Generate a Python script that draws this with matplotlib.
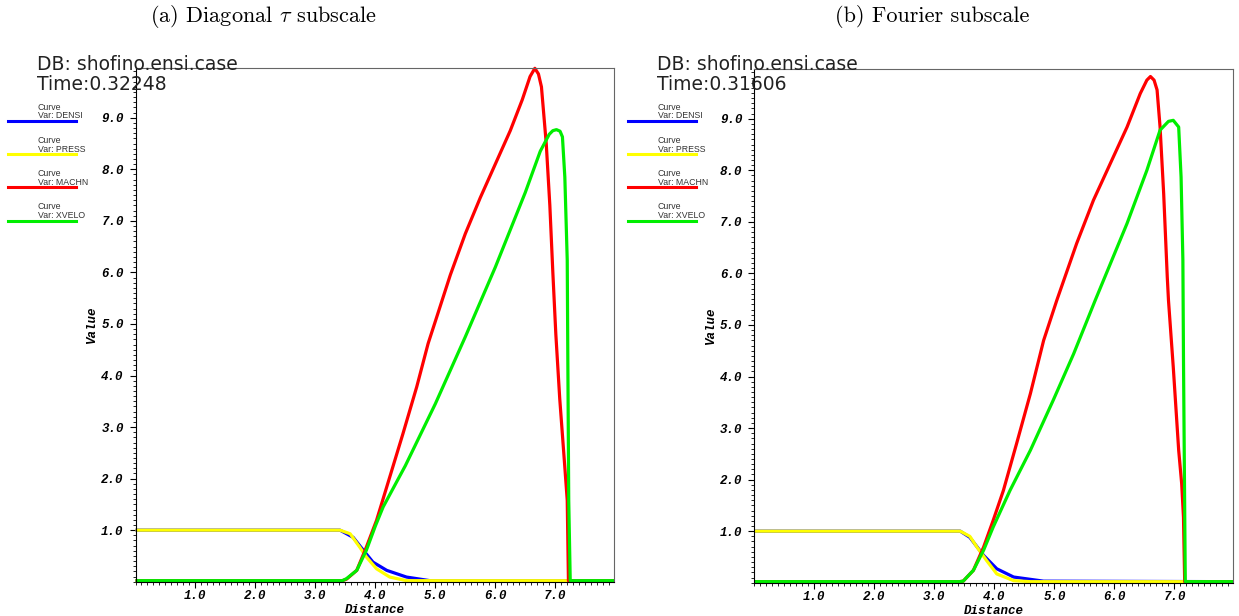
import numpy as np
import matplotlib.pyplot as plt
from matplotlib.ticker import MultipleLocator
import matplotlib.ticker as ticker

plt.rcParams['mathtext.fontset'] = 'cm'

# ---- panel (a): Diagonal tau subscale ----
a_densi_x = [0.0, 3.41, 3.63, 3.80, 3.96, 4.19, 4.52, 4.91, 7.98]
a_densi_y = [1.0, 1.0, 0.86, 0.61, 0.38, 0.22, 0.09, 0.02, 0.02]
a_press_x = [0.0, 3.41, 3.58, 3.74, 3.85, 4.02, 4.24, 4.52, 7.98]
a_press_y = [1.0, 1.0, 0.93, 0.67, 0.48, 0.25, 0.09, 0.02, 0.02]
a_machn_x = [0.0, 3.45, 3.52, 3.69, 3.85, 4.02, 4.24, 4.46, 4.69, 4.88, 5.0, 5.25, 5.5,
             5.75, 6.0, 6.25, 6.45, 6.58, 6.66, 6.72, 6.77, 6.85, 6.91, 6.96, 7.01, 7.075,
             7.16, 7.20, 7.22, 7.98]
a_machn_y = [0.02, 0.02, 0.05, 0.22, 0.67, 1.19, 2.03, 2.87, 3.78, 4.62, 5.05, 5.95, 6.75,
             7.45, 8.1, 8.75, 9.35, 9.8, 9.96, 9.85, 9.60, 8.50, 7.30, 6.0, 4.8, 3.55,
             2.22, 1.58, 0.02, 0.02]
a_xvelo_x = [0.0, 3.45, 3.52, 3.69, 3.85, 4.0, 4.13, 4.5, 5.0, 5.5, 6.0, 6.5, 6.75,
             6.9, 6.96, 7.02, 7.08, 7.12, 7.16, 7.20, 7.21, 7.225, 7.25, 7.98]
a_xvelo_y = [0.02, 0.02, 0.06, 0.22, 0.61, 1.08, 1.45, 2.25, 3.45, 4.75, 6.1, 7.55, 8.35,
             8.68, 8.75, 8.77, 8.74, 8.63, 7.85, 6.24, 4.33, 1.58, 0.02, 0.02]

# ---- panel (b): Fourier subscale ----
b_densi_x = [0.0, 3.43, 3.59, 3.82, 4.04, 4.32, 4.82, 7.98]
b_densi_y = [1.0, 1.0, 0.88, 0.53, 0.27, 0.11, 0.03, 0.02]
b_press_x = [0.0, 3.43, 3.59, 3.71, 3.87, 4.04, 4.32, 4.60, 7.98]
b_press_y = [1.0, 1.0, 0.90, 0.69, 0.43, 0.17, 0.04, 0.02, 0.02]
b_machn_x = [0.0, 3.42, 3.48, 3.65, 3.82, 3.98, 4.15, 4.37, 4.60, 4.82, 5.04, 5.37, 5.65,
             5.93, 6.21, 6.43, 6.54, 6.60, 6.66, 6.71, 6.76, 6.82, 6.88, 6.90, 6.98, 7.07,
             7.12, 7.15, 7.17, 7.98]
b_machn_y = [0.02, 0.02, 0.03, 0.24, 0.69, 1.21, 1.79, 2.70, 3.67, 4.70, 5.48, 6.58, 7.42,
             8.13, 8.84, 9.49, 9.75, 9.82, 9.75, 9.56, 8.84, 7.55, 5.93, 5.48, 4.18, 2.57,
             1.92, 1.27, 0.02, 0.02]
b_xvelo_x = [0.0, 3.42, 3.48, 3.65, 3.82, 3.98, 4.26, 4.60, 4.98, 5.32, 5.68, 6.21, 6.54,
             6.76, 6.90, 6.98, 7.07, 7.11, 7.14, 7.15, 7.18, 7.98]
b_xvelo_y = [0.02, 0.02, 0.03, 0.24, 0.63, 1.08, 1.79, 2.57, 3.54, 4.44, 5.48, 6.97, 8.00,
             8.78, 8.95, 8.97, 8.84, 7.87, 6.26, 4.35, 0.02, 0.02]

var_names = ['DENSI', 'PRESS', 'MACHN', 'XVELO']
var_colors = ['#0000ff', '#ffff00', '#ff0000', '#00ee00']
times = ['0.32248', '0.31606']
titles = [r'(a) Diagonal $\tau$ subscale', '(b) Fourier subscale']

W, H = 1239, 616


def figbox(x0, y0, x1, y1):
    # pixel box (top-left origin) -> figure fractions
    return [x0 / W, 1 - y1 / H, (x1 - x0) / W, (y1 - y0) / H]


def tickfont(labels):
    for lb in labels:
        lb.set_fontfamily('Liberation Mono')
        lb.set_fontweight('bold')
        lb.set_fontstyle('italic')
        lb.set_fontsize(9)


def draw_panel(fig, box, xoff, curves, time, title, title_cx):
    ax = fig.add_axes(figbox(*box))
    for (xs, ys), c in zip(curves, var_colors):
        ax.plot(xs, ys, color=c, lw=2.3, clip_on=False, solid_capstyle='butt')
    ax.set_xlim(0, 7.98)
    ax.set_ylim(0, 9.96)
    ax.set_xticks(np.arange(1, 8))
    ax.set_yticks(np.arange(1, 10))
    ax.xaxis.set_minor_locator(MultipleLocator(.1))
    ax.yaxis.set_minor_locator(MultipleLocator(.1))
    ax.xaxis.set_major_formatter(ticker.FormatStrFormatter('%0.1f'))
    ax.yaxis.set_major_formatter(ticker.FormatStrFormatter('%0.1f'))
    ax.tick_params(which='major', length=4.5, width=0.8, direction='out')
    ax.tick_params(which='minor', length=2.2, width=0.6, direction='out')
    ax.tick_params(axis='y', which='major', pad=4)
    ax.tick_params(axis='x', which='major', pad=1.5)
    tickfont(ax.get_xticklabels())
    tickfont(ax.get_yticklabels())
    for s in ['top', 'right']:
        ax.spines[s].set_color('#666666')
    for s in ['left', 'bottom']:
        ax.spines[s].set_color('black')
    ax.text(0.5, -0.056, 'Distance', transform=ax.transAxes, ha='center', va='center',
            family='Liberation Mono', weight='bold', style='italic', fontsize=9)
    ax.text(-0.091, 0.5, 'Value', transform=ax.transAxes, ha='center', va='center',
            rotation=90, family='Liberation Mono', weight='bold', style='italic', fontsize=9)

    # EnSight style header and legend
    fig.text((xoff + 37) / W, 1 - 65 / H, 'DB: shofino.ensi.case', ha='left', va='center',
             fontsize=13.5, color='#222222')
    fig.text((xoff + 37) / W, 1 - 84 / H, 'Time:' + time, ha='left', va='center',
             fontsize=13.5, color='#222222')
    for i, (name, c) in enumerate(zip(var_names, var_colors)):
        ly = 121 + 33.2 * i
        fig.text((xoff + 38) / W, 1 - (ly - 14) / H, 'Curve', ha='left', va='center',
                 family='Liberation Sans', fontsize=6.3, color='#333333')
        fig.text((xoff + 38) / W, 1 - (ly - 5) / H, 'Var: ' + name, ha='left', va='center',
                 family='Liberation Sans', fontsize=6.3, color='#333333')
        fig.add_artist(plt.Line2D([(xoff + 8) / W, (xoff + 76) / W], [1 - ly / H, 1 - ly / H],
                                  color=c, lw=2.2, transform=fig.transFigure))
    fig.text(title_cx / W, 1 - 16 / H, title, ha='center', va='center',
             family='cmr10', fontsize=16)
    return ax


if __name__ == '__main__':
    fig = plt.figure(figsize=(12.39, 6.16), dpi=100)
    draw_panel(fig, (135.5, 68.3, 614, 581.7), 0,
               [(a_densi_x, a_densi_y), (a_press_x, a_press_y),
                (a_machn_x, a_machn_y), (a_xvelo_x, a_xvelo_y)],
               times[0], titles[0], 263)
    draw_panel(fig, (754.3, 69.3, 1233.3, 582.7), 620,
               [(b_densi_x, b_densi_y), (b_press_x, b_press_y),
                (b_machn_x, b_machn_y), (b_xvelo_x, b_xvelo_y)],
               times[1], titles[1], 932)
    fig.savefig('out.png', dpi=100)
